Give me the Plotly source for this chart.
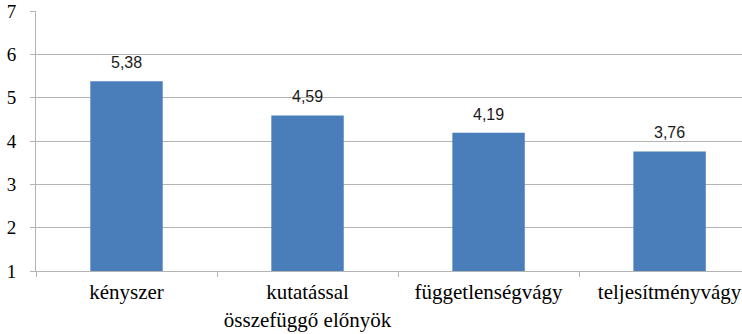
import plotly.graph_objects as go

categories = ["kényszer", "kutatással<br>összefüggő előnyök", "függetlenségvágy", "teljesítményvágy"]
values = [5.38, 4.59, 4.19, 3.76]
y_ticks = [1, 2, 3, 4, 5, 6, 7]

bar_color = "#4A7EBB"
grid_color = "#B3B3B3"
serif = "'Liberation Serif', 'Times New Roman', serif"

fig = go.Figure()
# bars rise from the axis floor of 1
fig.add_trace(go.Bar(
    x=categories,
    y=[v - 1 for v in values],
    base=1,
    marker=dict(color=bar_color, line=dict(width=0)),
    width=0.4,
))

for c, v in zip(categories, values):
    fig.add_annotation(
        x=c, y=v, text=f"{v:.2f}".replace(".", ","),
        showarrow=False, yanchor="bottom", yshift=8,
        font=dict(family="Liberation Sans", size=16, color="#1a1a1a"),
    )

fig.update_layout(
    width=742, height=334,
    margin=dict(l=36, r=0, t=11, b=63),
    paper_bgcolor="white", plot_bgcolor="white",
    showlegend=False,
    font=dict(family=serif),
)
fig.update_xaxes(
    type="category",
    range=[-0.5, 3.4],
    tickson="boundaries",
    ticks="outside", ticklen=5, tickcolor=grid_color,
    showline=True, linecolor=grid_color, linewidth=1,
    showgrid=False,
    tickfont=dict(family=serif, size=21, color="#000000"),
    ticklabelstandoff=2,
)
fig.update_yaxes(
    range=[1, 7],
    tickvals=y_ticks,
    ticks="outside", ticklen=5, tickcolor=grid_color,
    showline=True, linecolor=grid_color, linewidth=1,
    showgrid=True, gridcolor=grid_color, gridwidth=1,
    zeroline=False,
    tickfont=dict(family=serif, size=19, color="#000000"),
    ticklabelstandoff=10,
)

fig.write_html("out.html")
